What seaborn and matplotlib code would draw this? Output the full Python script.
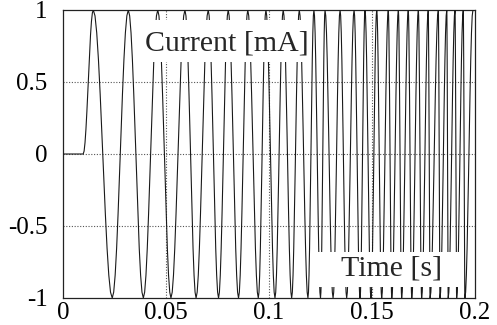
import numpy as np
import pandas as pd
import matplotlib
matplotlib.use("Agg")
import matplotlib.pyplot as plt
from matplotlib.patches import Rectangle
import seaborn as sns

# ---- data (time in s, current in mA) ----
onset_time = 0.0098
peak_times = [0.0147, 0.0317, 0.0460, 0.0592, 0.0705, 0.0802, 0.0897, 0.0985,
              0.1069, 0.1147, 0.1218, 0.1272, 0.1345, 0.1413, 0.1466, 0.1523,
              0.1579, 0.1628, 0.1676, 0.1725, 0.1773, 0.1822, 0.1863, 0.1903,
              0.1943, 0.1990]
trough_times = [0.0239, 0.0390, 0.0524, 0.0646, 0.0755, 0.0852, 0.0948, 0.1029,
                0.1110, 0.1189, 0.1250, 0.1311, 0.1377, 0.1442, 0.1495, 0.1547,
                0.1596, 0.1644, 0.1693, 0.1741, 0.1782, 0.1830, 0.1870, 0.1911,
                0.1951]
peak_value = 1.0
trough_value = -1.0
x_ticks = [0, 0.05, 0.1, 0.15, 0.2]
x_ticklabels = ["0", "0.05", "0.1", "0.15", "0.2"]
y_ticks = [-1, -0.5, 0, 0.5, 1]
y_ticklabels = ["-1", "-0.5", "0", "0.5", "1"]
y_label = "Current [mA]"
x_label = "Time [s]"

# ---- key points (read values) ----
key_t = [0.0, onset_time] + peak_times + trough_times
key_v = [0.0, 0.0] + [peak_value] * len(peak_times) + [trough_value] * len(trough_times)
keys = pd.DataFrame({"t": key_t, "current": key_v}).sort_values("t").reset_index(drop=True)

# smooth (half-cosine) line rendering between consecutive read key points
seg_steps = np.linspace(0.0, 1.0, 12)[:-1]
rows_t, rows_v = [], []
for i in range(len(keys) - 1):
    t0, v0 = keys.loc[i, "t"], keys.loc[i, "current"]
    t1, v1 = keys.loc[i + 1, "t"], keys.loc[i + 1, "current"]
    w = (1 - np.cos(np.pi * seg_steps)) / 2
    rows_t.extend(t0 + (t1 - t0) * seg_steps)
    rows_v.extend(v0 + (v1 - v0) * w)
rows_t.append(keys["t"].iloc[-1])
rows_v.append(keys["current"].iloc[-1])
df = pd.DataFrame({"t": rows_t, "current": rows_v})

sns.set_style("white")
plt.rcParams["font.family"] = ["Liberation Serif", "DejaVu Serif"]

fig = plt.figure(figsize=(4.97, 3.25), dpi=100)
ax = fig.add_axes([63 / 497, 27 / 325, 412 / 497, 288 / 325])

sns.lineplot(data=df, x="t", y="current", estimator=None, sort=False,
             color="#1a1a1a", linewidth=0.8, ax=ax, zorder=3)

ax.set_xlim(0, 0.2)
ax.set_ylim(-1, 1)
ax.set_xticks(x_ticks)
ax.set_xticklabels(x_ticklabels)
ax.set_yticks(y_ticks)
ax.set_yticklabels(y_ticklabels)
ax.tick_params(axis="both", length=0, labelsize=18, colors="black")
ax.tick_params(axis="y", pad=11)
ax.tick_params(axis="x", pad=3)
ax.set_xlabel("")
ax.set_ylabel("")

for gx in x_ticks[1:-1]:
    ax.axvline(gx, color="#555555", linestyle=(0, (1, 1.5)), linewidth=0.8, zorder=2)
for gy in y_ticks[1:-1]:
    ax.axhline(gy, color="#555555", linestyle=(0, (1, 1.5)), linewidth=0.8, zorder=2)

for s in ax.spines.values():
    s.set_color("#222222")
    s.set_linewidth(0.9)
    s.set_visible(True)

# white label boxes
ax.add_patch(Rectangle((84 / 412, 236 / 288), 163 / 412, 42 / 288,
                       transform=ax.transAxes, facecolor="white",
                       edgecolor="none", zorder=4))
ax.add_patch(Rectangle((255 / 412, 11 / 288), 145 / 412, 35 / 288,
                       transform=ax.transAxes, facecolor="white",
                       edgecolor="none", zorder=4))
ax.text(0.398, 0.885, y_label, transform=ax.transAxes, fontsize=21.5,
        ha="center", va="center", zorder=5)
ax.text(0.797, 0.104, x_label, transform=ax.transAxes, fontsize=21.5,
        ha="center", va="center", zorder=5)

fig.savefig("out.png", dpi=100)
